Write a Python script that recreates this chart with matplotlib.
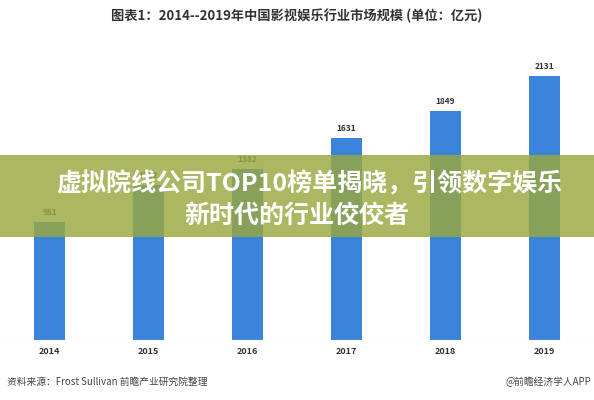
import matplotlib.pyplot as plt
from matplotlib.patches import Rectangle

plt.rcParams['font.family'] = ['Noto Sans CJK SC', 'DejaVu Sans']

years = ['2014', '2015', '2016', '2017', '2018', '2019']
values = [951, 1252, 1382, 1631, 1849, 2131]

W, H = 594, 400
fig = plt.figure(figsize=(W / 100, H / 100), dpi=100)

# axes: baseline at y=340 px, 2131 top at ~76 px
ax = fig.add_axes([0.0, 1 - 340 / H, 1.0, (340 - 60) / H])
x = range(len(years))
ax.bar(x, values, width=0.31, color='#3a84dc', zorder=2)
for i, v in zip(x, values):
    ax.text(i, v + 40, str(v), ha='center', va='bottom', fontsize=6,
            fontweight='bold', color='#333333')
ax.set_xlim(-0.5, 5.5)
ax.set_ylim(0, 2131 * 280 / 264)
ax.axhline(0, color='#cccccc', lw=0.8)
ax.set_xticks(list(x))
ax.set_xticklabels(years, fontsize=6.5, fontweight='bold', color='#333333')
ax.tick_params(length=0, pad=5)
ax.set_yticks([])
for s in ax.spines.values():
    s.set_visible(False)

fig.text(0.5, 1 - 16 / H, '图表1：2014--2019年中国影视娱乐行业市场规模 (单位：亿元)',
         ha='center', va='center', fontsize=9.5, fontweight='bold', color='#333333')
fig.text(0.012, 1 - 382 / H, '资料来源：Frost Sullivan 前瞻产业研究院整理',
         ha='left', va='center', fontsize=7, color='#444444')
fig.text(0.995, 1 - 382 / H, '@前瞻经济学人APP',
         ha='right', va='center', fontsize=7, color='#444444')

# banner overlay
fig.patches.append(Rectangle((0, 1 - 237 / H), 1, 82 / H, transform=fig.transFigure,
                             facecolor='#9aa83e', alpha=0.82, zorder=5))
fig.text(0.52, 1 - 184 / H, '虚拟院线公司TOP10榜单揭晓，引领数字娱乐',
         ha='center', va='center', fontsize=18, fontweight='bold', color='white', zorder=6)
fig.text(0.5, 1 - 216 / H, '新时代的行业佼佼者',
         ha='center', va='center', fontsize=18, fontweight='bold', color='white', zorder=6)

fig.savefig('out.png', dpi=100)
